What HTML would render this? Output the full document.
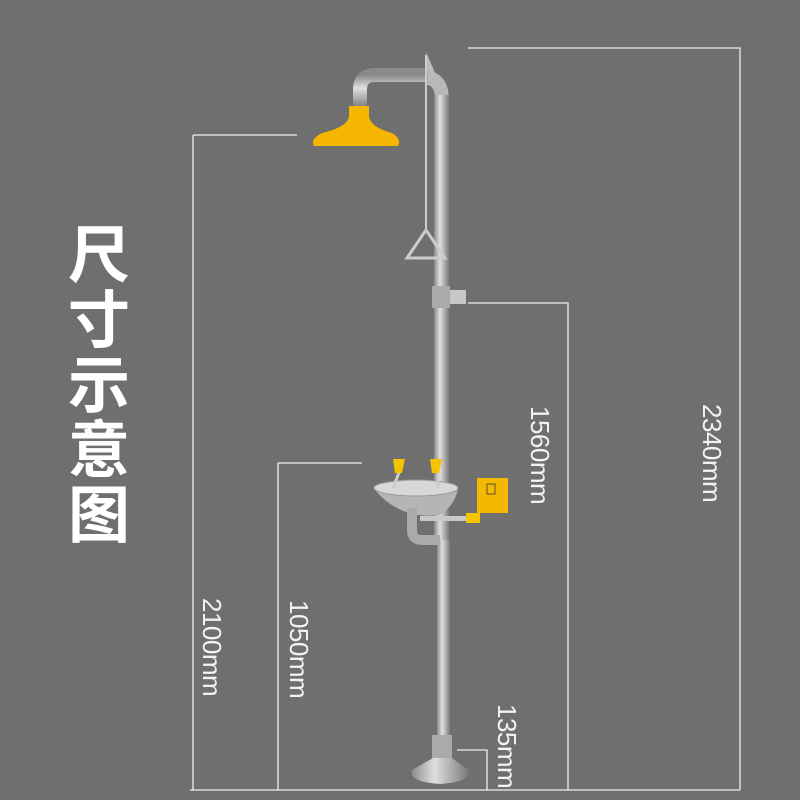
<!DOCTYPE html><html><head><meta charset="utf-8"><style>
body{margin:0;width:800px;height:800px;background:#6f6f6f;overflow:hidden;position:relative;font-family:"Liberation Sans","Noto Sans CJK SC",sans-serif}
.t{position:absolute;color:#f2f2f2;font-size:26px;transform:rotate(90deg);transform-origin:left top;white-space:nowrap;letter-spacing:-0.5px}
.ti{position:absolute;left:64px;top:218px;width:70px;color:#fff;font-weight:bold;font-size:62px;line-height:65px;text-align:center;font-family:"Noto Sans CJK SC",sans-serif}
</style></head><body>
<svg width="800" height="800" style="position:absolute;left:0;top:0">
<defs>
<linearGradient id="m" x1="0" x2="1"><stop offset="0" stop-color="#8a8a8a"/><stop offset=".4" stop-color="#e0e0e0"/><stop offset="1" stop-color="#7a7a7a"/></linearGradient>
<linearGradient id="mh" x1="0" y1="0" x2="0" y2="1"><stop offset="0" stop-color="#8a8a8a"/><stop offset=".4" stop-color="#e0e0e0"/><stop offset="1" stop-color="#7a7a7a"/></linearGradient>
</defs>
<g stroke="#eee" stroke-width="1.3" fill="none">
<path d="M468 48H740V790"/><path d="M193 135H297M193 135V790"/><path d="M468 303H568V790"/><path d="M278 463H362M278 463V790"/><path d="M457 750H487V790"/><path d="M190 790H740"/>
</g>
<path d="M360 108V90Q360 75 375 75H428" stroke="url(#mh)" stroke-width="14" fill="none"/>
<path d="M428 78Q442 80 442 100V300" stroke="#b8b8b8" stroke-width="14" fill="none"/>
<rect x="434" y="95" width="15" height="445" fill="url(#m)"/>
<rect x="437" y="540" width="13" height="200" fill="url(#m)"/>
<path d="M426 52L436 75L428 82Z" fill="#bbb"/>
<line x1="426" y1="55" x2="426" y2="230" stroke="#ccc" stroke-width="2"/>
<path d="M426 230L407 258H445Z" stroke="#ccc" stroke-width="3" fill="none"/>
<rect x="349" y="106" width="20" height="15" fill="#f4b800"/>
<path d="M349 116Q348 127 322 133Q310 139 314 146H398Q402 139 392 133Q370 127 369 116Z" fill="#f6b500"/>
<rect x="432" y="286" width="18" height="22" fill="#aaa"/><rect x="450" y="290" width="16" height="14" fill="#c8c8c8"/>
<path d="M374 489Q400 520 440 515Q455 505 458 489Z" fill="#b5b5b5"/>
<ellipse cx="416" cy="488" rx="42" ry="8" fill="#d8d8d8" stroke="#999"/>
<line x1="400" y1="470" x2="393" y2="488" stroke="#ccc" stroke-width="3"/><line x1="438" y1="470" x2="438" y2="488" stroke="#ccc" stroke-width="3"/>
<path d="M393 459h12l-3 14h-7Z" fill="#f5c400"/><path d="M430 459h12l-3 14h-7Z" fill="#f5c400"/>
<path d="M412 508V530Q412 540 422 540H440" stroke="#aaa" stroke-width="10" fill="none"/>
<rect x="420" y="516" width="50" height="5" fill="#c8c8c8"/>
<rect x="466" y="513" width="14" height="10" fill="#f5c400"/>
<rect x="477" y="478" width="31" height="35" fill="#f5b800"/>
<rect x="487" y="484" width="8" height="10" fill="none" stroke="#553" stroke-width="1"/>
<rect x="432" y="735" width="20" height="30" fill="#aaa"/>
<path d="M433 758L412 770Q408 782 440 784Q472 782 468 770L452 758Z" fill="url(#m)"/>
</svg>
<div class="ti">尺<br>寸<br>示<br>意<br>图</div>
<div class="t" style="left:727px;top:404px">2340mm</div>
<div class="t" style="left:555px;top:406px">1560mm</div>
<div class="t" style="left:227px;top:598px">2100mm</div>
<div class="t" style="left:314px;top:600px">1050mm</div>
<div class="t" style="left:522px;top:704px">135mm</div>
</body></html>
